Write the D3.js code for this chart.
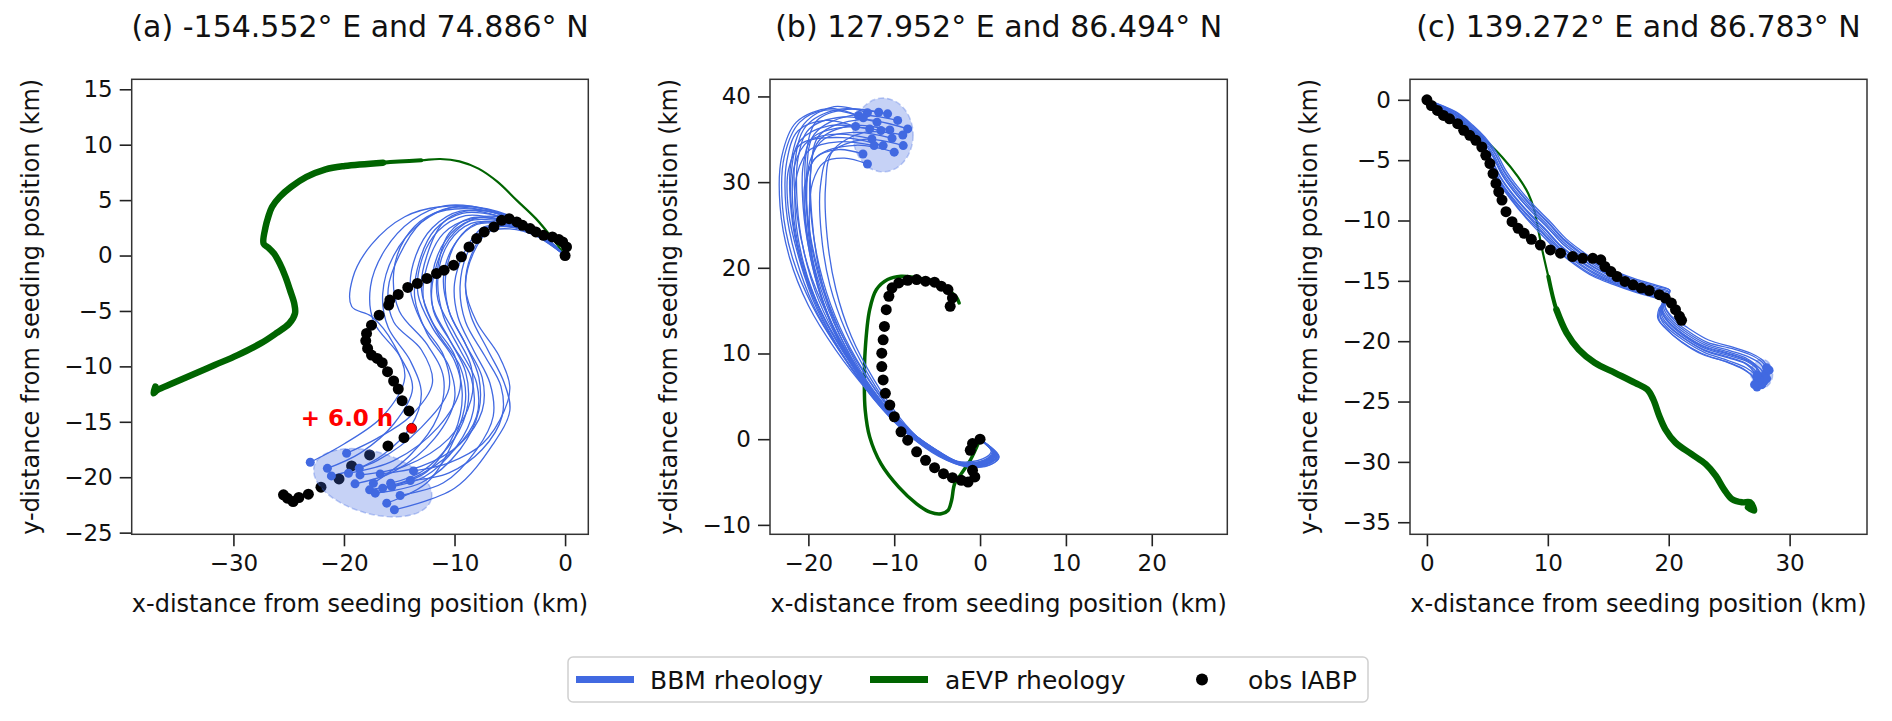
<!DOCTYPE html>
<html>
<head>
<meta charset="utf-8">
<script src="https://cdn.jsdelivr.net/npm/d3@7"></script>
<style>
  body { margin: 0; background: #fff; font-family: "DejaVu Sans", sans-serif; }
</style>
</head>
<body>
<div id="chart-container"></div>
<script>
// ---------- data (km from seeding position) ----------
const titles = [
  "(a) -154.552° E and 74.886° N",
  "(b) 127.952° E and 86.494° N",
  "(c) 139.272° E and 86.783° N"
];
const legendLabels = ["BBM rheology", "aEVP rheology", "obs IABP"];

const xTicksA = [-30, -20, -10, 0];
const yTicksA = [-25, -20, -15, -10, -5, 0, 5, 10, 15];
const xTicksB = [-20, -10, 0, 10, 20];
const yTicksB = [-10, 0, 10, 20, 30, 40];
const xTicksC = [0, 10, 20, 30];
const yTicksC = [-35, -30, -25, -20, -15, -10, -5, 0];

// panel (a)
const obsA = [[0,0],[0.13,0.78],[-0.22,1.23],[-0.56,1.44],[-1.15,1.68],[-1.95,1.83],[-2.64,2.13],[-3.16,2.43],
  [-3.85,2.73],[-4.37,3.03],[-5.06,3.33],[-5.75,3.18],[-6.44,2.58],[-7.31,2.13],[-8.0,1.53],[-8.69,0.78],
  [-9.38,-0.12],[-10.08,-0.87],[-10.94,-1.32],[-11.63,-1.62],[-12.5,-2.07],[-13.36,-2.52],[-14.23,-2.88],
  [-15.09,-3.51],[-15.85,-4.02],[-15.96,-4.47],[-16.82,-5.38],[-17.51,-6.28],[-17.96,-7.03],[-18.03,-7.69],
  [-17.86,-8.38],[-17.51,-8.98],[-16.99,-9.28],[-16.54,-9.67],[-16.06,-10.48],[-15.51,-11.32],[-15.09,-12.04],
  [-14.74,-13.09],[-14.12,-14.02],[-14.57,-16.43],[-16.02,-17.18],[-17.68,-17.99],[-19.31,-18.98],
  [-20.45,-20.15],[-22.08,-20.9],[-23.22,-21.53],[-24.08,-21.83],[-24.6,-22.19],[-25.12,-21.89],[-25.47,-21.59]];
const markA = [-13.88, -15.59];
const markLabelA = "+ 6.0 h";
const aevpA = [[0,0],[-1.25,1.68],[-2.64,3.33],[-4.37,4.98],[-6.1,6.64],[-7.83,7.84],[-9.56,8.5],[-11.29,8.71],
  [-13.02,8.59],[-16.47,8.38],[-19.93,8.08],[-21.66,7.78],[-23.39,7.09],[-24.78,6.19],[-25.81,5.29],[-26.51,4.38],
  [-26.85,3.48],[-27.09,2.58],[-27.27,1.08],[-26.85,0.72],[-26.33,0.18],[-25.81,-0.72],[-25.29,-1.92],
  [-24.88,-3.12],[-24.5,-4.32],[-24.43,-5.23],[-24.95,-6.13],[-26.16,-7.03],[-27.54,-7.93],[-29.62,-8.98],
  [-31.69,-9.88],[-33.77,-10.78],[-35.5,-11.53],[-36.88,-12.13],[-37.23,-12.43],[-37.06,-11.83]];
const bbmA = [
  [[0,0],[-3,2.6],[-7,4.2],[-11.3,4.4],[-14.5,3.5],[-17.5,1],[-19.2,-2],[-19.3,-4.6],[-17.5,-5.5],[-15.5,-8],[-14.5,-11],[-16.5,-14.5],[-20,-17],[-23.05,-18.65]],
  [[0,0],[-3,2.4],[-7,4],[-10.5,4.3],[-13,3],[-15,0],[-16,-3],[-15.5,-6],[-13,-8.5],[-12,-11.5],[-14,-14.5],[-17,-16.5],[-19.76,-17.84]],
  [[0,0],[-3,2.3],[-6.5,3.7],[-9.5,4],[-12,2.5],[-13.5,0],[-14,-3],[-13,-6],[-11,-9],[-10.5,-12],[-13,-15.5],[-17,-18.5],[-21.14,-19.88]],
  [[0,0],[-3,2.5],[-6,3.8],[-9,4],[-11,3],[-12.5,0],[-13,-3],[-12,-6],[-10,-9],[-9.5,-12],[-11.5,-15.5],[-15.5,-18.5],[-19.59,-19.64]],
  [[0,0],[-3,2.2],[-6,3.2],[-8.5,3.4],[-10.5,2],[-11.5,-1],[-11.5,-4],[-10,-7],[-8.5,-10],[-8.5,-13],[-10.5,-16.5],[-14.5,-19],[-18.55,-19.79]],
  [[0,0],[-3,2],[-5.5,2.8],[-8,2.8],[-10,1],[-11,-2],[-10.5,-5],[-9,-8],[-7.5,-11],[-7.5,-14],[-9.5,-17],[-13,-19],[-16.72,-19.7]],
  [[0,0],[-2.5,1.8],[-5,2.6],[-7,2.3],[-8.5,0],[-9,-3],[-8,-6],[-6,-9],[-5,-11.8],[-5.5,-14],[-7.5,-17],[-10.5,-18.7],[-13.71,-19.43]],
  [[0,0],[-3,2.3],[-6,3.5],[-8.5,3.2],[-10.5,1.5],[-11.8,-1.5],[-12,-4.5],[-10.5,-7.5],[-9,-10.5],[-8.8,-13.5],[-10,-16.5],[-13,-19.5],[-15.78,-20.54]],
  [[0,0],[-3,2.4],[-6.5,3.9],[-10,4.2],[-12.5,3.5],[-14.5,1.5],[-15.5,-1.5],[-15,-5],[-12.5,-8],[-11,-11],[-11.5,-14.5],[-14,-18],[-17.34,-20.54]],
  [[0,0],[-3,2.1],[-6,3.0],[-8.5,2.9],[-10.5,1.2],[-11.5,-2],[-11,-5.5],[-9.5,-8.5],[-8,-11.5],[-8,-14.5],[-10,-17.5],[-14,-20.2],[-17.68,-21.14]],
  [[0,0],[-2.5,1.9],[-5.5,2.9],[-8,2.9],[-9.8,1.3],[-10.8,-1.8],[-10.5,-5],[-9,-8],[-7.8,-11],[-7.8,-14],[-9.5,-17.5],[-13,-20.5],[-17.17,-21.44]],
  [[0,0],[-2.5,2],[-5.5,3.2],[-8.5,3.3],[-11,2],[-12.5,-1],[-12.8,-4],[-11.5,-7],[-9.5,-10],[-9,-13],[-10,-16.5],[-12.5,-20.5],[-16.13,-22.34]],
  [[0,0],[-2.5,1.7],[-5,2.4],[-7,2.1],[-8.3,0.2],[-9,-2.5],[-8.5,-5.5],[-7,-8.5],[-5.5,-11.5],[-5,-14],[-6.5,-17],[-10,-21],[-15.44,-22.94]],
  [[0,0],[-2.5,1.8],[-5.5,2.7],[-7.5,2.5],[-9,0.5],[-10,-2.5],[-9.7,-5.5],[-8.3,-8.5],[-6.8,-11.5],[-6.5,-14.5],[-8,-17.5],[-11,-20.5],[-14.92,-21.65]],
  [[0,0],[-3,2.2],[-6,3.3],[-9,3.6],[-11.5,2.2],[-13,-0.5],[-13.3,-3.5],[-12,-6.5],[-10,-9.5],[-9.3,-12.5],[-10,-16],[-12.5,-19.5],[-15.68,-20.84]],
  [[0,0],[-3,2.5],[-6.5,4],[-10,4.4],[-13,3],[-15.5,0],[-16.5,-3.5],[-16,-6.5],[-14,-9.5],[-13,-12.5],[-14,-15.5],[-16.5,-18],[-18.62,-19.19]],
  [[0,0],[-3,2.5],[-6.8,4.1],[-10.8,4.5],[-13.8,3.2],[-16.3,0.5],[-17.6,-2.8],[-17.3,-6],[-15,-9],[-13.8,-12],[-15.5,-15.2],[-18.5,-17.8],[-21.5,-19.2]],
  [[0,0],[-2.8,2.3],[-6.2,3.6],[-9.3,3.8],[-11.8,2.3],[-13.2,-0.6],[-13.6,-3.8],[-12.5,-7],[-10.5,-10],[-10,-13],[-11.8,-16.5],[-15.5,-19.5],[-19.0,-20.6]],
  [[0,0],[-2.6,1.9],[-5.3,2.6],[-7.3,2.4],[-8.8,0.3],[-9.5,-2.8],[-9,-6],[-7.3,-9],[-5.8,-11.8],[-5.7,-14.5],[-7.5,-17.5],[-10.5,-19.6],[-14.0,-20.3]],
  [[0,0],[-2.8,2.1],[-5.8,3.1],[-8.7,3.1],[-10.8,1.4],[-12,-1.7],[-11.9,-5],[-10.2,-8],[-8.5,-11],[-8.3,-14],[-9.8,-17.2],[-12.8,-20],[-16.5,-21.0]]
];
const spreadA = {cx: -17.4, cy: -20.5, rx: 5.5, ry: 2.8, angle: -16};

// panel (b)
const obsB = [[0,0],[-0.88,-0.51],[-1.14,-1.29],[-0.88,-3.63],[-0.61,-4.41],[-1.4,-5.0],[-2.18,-4.8],[-3.22,-4.49],
  [-4.26,-4.02],[-5.3,-3.32],[-6.35,-2.46],[-7.39,-1.48],[-8.43,-0.12],[-9.21,0.86],[-9.99,2.62],[-10.51,3.98],
  [-11.03,5.35],[-11.29,6.91],[-11.45,8.48],[-11.45,10.04],[-11.29,11.6],[-11.14,13.16],[-10.93,15.12],
  [-10.62,16.68],[-10.25,17.66],[-9.47,18.24],[-8.43,18.55],[-7.39,18.63],[-6.35,18.44],[-5.3,18.32],
  [-4.52,17.85],[-3.74,17.46],[-3.22,16.48],[-3.48,15.51]];
const aevpB = [[0,0],[-1.14,-2.46],[-2.18,-4.02],[-2.96,-5.2],[-3.32,-7.15],[-3.74,-8.32],[-4.52,-8.71],
  [-5.82,-8.52],[-7.39,-7.54],[-9.47,-5.59],[-11.55,-2.85],[-12.86,0.27],[-13.38,3.4],[-13.48,6.52],
  [-13.38,10.43],[-12.86,15.12],[-12.07,17.46],[-10.77,18.63],[-9.21,19.02],[-7.39,18.83],[-5.3,18.44],
  [-3.74,17.46],[-2.7,16.48],[-2.44,15.9]];
const bbmB = [
  [[0,0],[1.6,-1.6],[0.5,-2.5],[-2,-2.8],[-5,-1.3],[-9,1.5],[-12.8,5.5],[-16.5,10.5],[-19.5,15.5],[-21.8,21],[-23,27],[-22.8,33],[-21,37],[-18,38.4],[-14.16,37.77]],
  [[0,0],[1.8,-1.9],[0.8,-2.6],[-1.8,-2.9],[-4.6,-1.6],[-8.4,1],[-12,4.8],[-15.6,9.8],[-18.6,15],[-20.8,20.5],[-22,26.5],[-22,32.5],[-20.5,36.8],[-17,38.8],[-13.12,38.09]],
  [[0,0],[2,-2],[1,-2.7],[-1.5,-3],[-4.2,-1.9],[-7.8,0.6],[-11.3,4.2],[-14.8,9],[-17.8,14.5],[-20,20],[-21.3,26],[-21.6,32],[-20.3,36.5],[-16.5,38.5],[-11.81,38.16]],
  [[0,0],[1.5,-1.7],[0.6,-2.6],[-2.2,-2.9],[-5.2,-1.2],[-9.2,1.8],[-12.5,5.8],[-15.3,10.5],[-17.5,15.5],[-19.2,21],[-20.2,27],[-20.3,33],[-19,37.2],[-15.5,38.5],[-10.77,37.97]],
  [[0,0],[1.9,-2.1],[0.8,-2.8],[-1.8,-3.1],[-4.8,-2],[-8.3,0.5],[-11.8,4],[-15.3,8.8],[-18.3,14],[-20.5,19.5],[-21.8,25.5],[-22,31],[-21,34.8],[-17.5,36.6],[-12.86,36.21]],
  [[0,0],[1.4,-1.5],[0.5,-2.4],[-2.4,-2.7],[-5.6,-1],[-9.6,2.2],[-13,6.2],[-16,11],[-18.3,16],[-19.8,21.5],[-20.6,27],[-20.6,32],[-19.5,35.2],[-16,36.4],[-11.55,36.02]],
  [[0,0],[2.1,-2],[1.2,-2.8],[-1.2,-3.1],[-4,-2.2],[-7.3,0.2],[-10.5,3.5],[-13.6,8],[-16.3,13],[-18.3,18.5],[-19.5,24.5],[-19.8,30.5],[-18.8,34.8],[-15,36.6],[-10.51,36.09]],
  [[0,0],[1.7,-1.8],[0.7,-2.6],[-2,-2.9],[-5,-1.5],[-8.8,1.2],[-12.3,5],[-15.8,10],[-18.8,15.5],[-20.8,21],[-21.8,27],[-21.6,32],[-20,34.8],[-16.5,35.6],[-12.6,35.04]],
  [[0,0],[1.3,-1.4],[0.3,-2.3],[-2.6,-2.6],[-6,-0.8],[-10,2.5],[-13.5,6.8],[-16.5,11.8],[-18.6,17],[-19.8,22.5],[-20.2,28],[-19.8,32.5],[-18.2,35],[-14.5,35.8],[-10.25,35.12]],
  [[0,0],[1.9,-2],[1,-2.8],[-1.6,-3.1],[-4.4,-2.1],[-7.8,0.3],[-11,3.7],[-14.2,8.2],[-17,13.5],[-19,19],[-20.2,24.5],[-20.3,29.5],[-19.2,32.8],[-16.5,33.8],[-13.64,33.28]],
  [[0,0],[1.5,-1.6],[0.6,-2.5],[-2.2,-2.8],[-5.3,-1.2],[-9.2,1.7],[-12.8,5.7],[-16,10.5],[-18.2,15.8],[-19.5,21],[-19.9,26],[-19.5,30],[-18.2,32.3],[-15.8,32.8],[-13.12,32.11]],
  [[0,0],[2.2,-2.1],[1.3,-2.9],[-1,-3.2],[-3.8,-2.4],[-7,-0.2],[-10,3],[-13,7.5],[-15.6,12.5],[-17.5,18],[-18.5,24],[-18.6,29.5],[-17.5,33.3],[-13.5,35],[-8.95,34.26]],
  [[0,0],[1.6,-1.7],[0.7,-2.6],[-2,-3],[-5,-1.6],[-8.6,1],[-12,4.8],[-15,9.5],[-17.3,14.5],[-18.8,20],[-19.6,26],[-19.7,31.5],[-18.7,35.5],[-14,37.3],[-8.43,36.21]],
  [[0,0],[1.8,-1.9],[0.9,-2.7],[-1.7,-3],[-4.7,-1.7],[-8.5,0.9],[-12.1,4.6],[-15.6,9.6],[-18.5,14.8],[-20.5,20.3],[-21.5,26],[-21.3,31],[-19.8,33.8],[-16.5,34.7],[-12.34,34.26]],
  [[0,0],[1.7,-1.9],[0.8,-2.7],[-1.9,-3],[-4.9,-1.8],[-8.7,0.8],[-12.4,4.7],[-16,9.8],[-19,15.2],[-21,20.8],[-22.3,26.5],[-22.3,31.5],[-20.8,34.5],[-16,35.2],[-11.29,34.26]],
  [[0,0],[1.6,-1.8],[0.6,-2.6],[-2.1,-2.9],[-5.1,-1.4],[-9.1,1.4],[-12.9,5.4],[-16.8,10.4],[-20,15.6],[-22.2,21.2],[-23.3,27.2],[-23.1,33],[-21.4,37],[-17.5,38.6],[-13.6,37.5]],
  [[0,0],[2,-1.9],[1.1,-2.8],[-1.4,-3.1],[-4.1,-2],[-7.5,0.4],[-10.8,3.9],[-14,8.5],[-16.8,13.6],[-18.8,19],[-20,25],[-20.2,31],[-19.3,35.6],[-15,37.8],[-9.6,37.2]],
  [[0,0],[1.5,-1.6],[0.5,-2.5],[-2.3,-2.8],[-5.4,-1.1],[-9.4,2],[-12.9,6],[-16.2,11],[-18.8,16.2],[-20.5,21.8],[-21.3,27.5],[-21.2,32.8],[-19.9,36.2],[-16,37.6],[-12.0,37.0]],
  [[0,0],[1.9,-2.1],[0.9,-2.9],[-1.7,-3.2],[-4.5,-2.1],[-8,0.3],[-11.3,3.8],[-14.6,8.4],[-17.4,13.6],[-19.3,19.2],[-20.3,24.8],[-20.4,29.8],[-19,33],[-14.5,34.3],[-10.0,33.5]],
  [[0,0],[1.8,-1.8],[0.8,-2.6],[-1.9,-2.9],[-4.9,-1.5],[-8.9,1.3],[-12.6,5.2],[-16.3,10.2],[-19.3,15.4],[-21.4,21],[-22.6,27],[-22.5,32.5],[-21.2,36],[-18,37.2],[-14.5,36.5]],
  [[0,0],[2.2,-2],[1.4,-2.9],[-0.8,-3.3],[-3.5,-2.5],[-6.6,-0.4],[-9.5,2.7],[-12.4,7],[-15,12],[-16.8,17.5],[-17.8,23.5],[-18,29.5],[-17.2,33.6],[-13.5,35.8],[-9.0,35.5]]
];
const spreadB = {cx: -11.3, cy: 35.5, rx: 3.5, ry: 4.3, angle: 0};

// panel (c)
const obsC = [[0,0],[0.37,-0.47],[0.87,-0.88],[1.37,-1.29],[1.87,-1.57],[2.54,-1.98],[3.04,-2.53],[3.54,-2.94],
  [4.04,-3.36],[4.54,-3.91],[4.87,-4.6],[5.21,-5.28],[5.47,-6.11],[5.71,-6.93],[5.94,-7.62],[6.21,-8.31],
  [6.54,-9.27],[7.04,-10.1],[7.54,-10.65],[8.04,-11.06],[8.64,-11.56],[9.38,-12.03],[10.21,-12.44],
  [11.05,-12.71],[12.05,-12.99],[12.88,-13.13],[13.72,-13.13],[14.38,-13.26],[14.72,-13.81],[15.22,-14.23],
  [15.72,-14.64],[16.38,-15.05],[17.05,-15.33],[17.72,-15.6],[18.39,-15.8],[19.22,-16.15],[19.72,-16.43],
  [20.22,-16.84],[20.56,-17.39],[20.89,-17.94],[21.06,-18.27]];
const aevpC = [[0,0],[1.2,-0.88],[2.87,-1.84],[4.54,-3.08],[6.21,-4.73],[7.54,-6.38],[8.38,-7.76],[8.88,-9.14],
  [9.21,-10.79],[9.54,-12.44],[10.04,-14.64],[10.71,-17.39],[11.55,-19.32],[12.55,-20.69],[13.88,-21.79],
  [15.55,-22.62],[17.22,-23.45],[18.22,-24.0],[18.72,-24.82],[19.22,-26.2],[19.72,-27.3],[20.56,-28.4],
  [21.89,-29.36],[23.06,-30.19],[23.89,-31.15],[24.56,-32.25],[25.23,-33.08],[26.06,-33.35],[26.73,-33.35],
  [27.06,-34.04],[26.56,-33.76]];
const bbmC = [
  [[0,0],[2.2,-1.2],[3.6,-2.3],[4.6,-3.3],[5.4,-4.6],[6.2,-6.2],[7.2,-7.6],[8.5,-9.1],[9.9,-10.5],[11.2,-11.9],[12.6,-13],[13.9,-13.9],[15.6,-14.7],[17.2,-15.3],[18.9,-15.8],[19.9,-16.1],[19.5,-16.7],[19.4,-17.5],[19.9,-18.3],[21.2,-19.4],[22.9,-20.4],[24.9,-21],[26.3,-21.5],[27.3,-22.2],[27.6,-23.0]],
  [[0,0],[2.1,-1.4],[3.4,-2.5],[4.4,-3.5],[5.2,-4.9],[6.0,-6.6],[7.0,-8.0],[8.3,-9.5],[9.7,-10.9],[11.0,-12.3],[12.4,-13.4],[13.8,-14.3],[15.5,-15.1],[17.2,-15.7],[18.9,-16.2],[19.8,-16.5],[19.4,-17.0],[19.3,-17.9],[19.9,-18.7],[21.3,-19.8],[23.0,-20.8],[25.0,-21.4],[26.4,-21.9],[27.1,-22.6],[27.4,-23.4]],
  [[0,0],[2.3,-1.1],[3.7,-2.2],[4.7,-3.2],[5.6,-4.4],[6.4,-6.0],[7.4,-7.4],[8.7,-8.9],[10.1,-10.3],[11.4,-11.7],[12.8,-12.8],[14.1,-13.7],[15.7,-14.5],[17.3,-15.1],[19.0,-15.6],[20.0,-15.9],[19.7,-16.5],[19.6,-17.3],[20.1,-18.1],[21.4,-19.2],[23.1,-20.2],[25.1,-20.8],[26.6,-21.3],[27.6,-21.9],[28.0,-22.7]],
  [[0,0],[2.0,-1.5],[3.3,-2.7],[4.3,-3.7],[5.1,-5.1],[5.9,-6.8],[6.9,-8.2],[8.2,-9.8],[9.5,-11.2],[10.9,-12.6],[12.3,-13.7],[13.7,-14.6],[15.4,-15.3],[17.1,-15.9],[18.8,-16.4],[19.7,-16.7],[19.3,-17.3],[19.2,-18.2],[19.8,-19.0],[21.1,-20.1],[22.8,-21.1],[24.8,-21.7],[26.2,-22.3],[27.0,-23.0],[27.3,-23.8]],
  [[0,0],[2.2,-1.3],[3.5,-2.4],[4.5,-3.4],[5.3,-4.8],[6.1,-6.4],[7.1,-7.8],[8.4,-9.3],[9.8,-10.7],[11.1,-12.1],[12.5,-13.2],[13.9,-14.1],[15.5,-14.9],[17.2,-15.5],[18.9,-16.0],[20.0,-16.3],[19.6,-16.9],[19.5,-17.7],[20.0,-18.5],[21.3,-19.6],[23.0,-20.6],[25.0,-21.2],[26.5,-21.7],[27.5,-22.5],[27.9,-23.3]],
  [[0,0],[2.4,-1.0],[3.8,-2.1],[4.8,-3.1],[5.7,-4.3],[6.5,-5.8],[7.5,-7.2],[8.8,-8.7],[10.2,-10.1],[11.5,-11.5],[12.9,-12.6],[14.2,-13.5],[15.8,-14.3],[17.4,-14.9],[19.1,-15.4],[20.1,-15.8],[19.8,-16.4],[19.7,-17.1],[20.2,-17.9],[21.6,-18.9],[23.3,-19.9],[25.3,-20.5],[26.8,-21.0],[27.8,-21.6],[28.3,-22.4]],
  [[0,0],[2.1,-1.3],[3.4,-2.6],[4.4,-3.6],[5.2,-5.0],[6.0,-6.7],[7.0,-8.1],[8.3,-9.6],[9.6,-11.0],[11.0,-12.4],[12.4,-13.5],[13.8,-14.4],[15.5,-15.2],[17.2,-15.8],[18.9,-16.3],[19.8,-16.6],[19.4,-17.2],[19.3,-18.0],[19.8,-18.8],[21.2,-19.9],[22.9,-20.9],[24.9,-21.6],[26.4,-22.2],[27.3,-22.9],[27.7,-23.6]],
  [[0,0],[2.3,-1.2],[3.6,-2.4],[4.6,-3.4],[5.5,-4.7],[6.3,-6.3],[7.3,-7.7],[8.6,-9.2],[10.0,-10.6],[11.3,-12.0],[12.7,-13.1],[14.0,-14.0],[15.6,-14.8],[17.3,-15.4],[19.0,-15.9],[20.0,-16.2],[19.6,-16.8],[19.5,-17.6],[20.0,-18.4],[21.3,-19.5],[23.0,-20.5],[25.0,-21.1],[26.6,-21.6],[27.6,-22.3],[28.1,-23.1]],
  [[0,0],[2.1,-1.3],[3.5,-2.5],[4.5,-3.5],[5.3,-4.9],[6.1,-6.5],[7.1,-7.9],[8.4,-9.4],[9.8,-10.8],[11.1,-12.2],[12.5,-13.3],[13.9,-14.2],[15.5,-15.0],[17.2,-15.6],[18.9,-16.1],[19.9,-16.4],[19.5,-17.0],[19.4,-17.8],[19.9,-18.6],[21.2,-19.7],[22.9,-20.7],[24.9,-21.3],[26.3,-21.8],[27.2,-22.5],[27.5,-23.2]],
  [[0,0],[2.2,-1.1],[3.6,-2.2],[4.6,-3.2],[5.5,-4.5],[6.3,-6.1],[7.3,-7.5],[8.6,-9.0],[10.0,-10.4],[11.3,-11.8],[12.7,-12.9],[14.0,-13.8],[15.7,-14.6],[17.3,-15.2],[19.0,-15.7],[20.0,-16.0],[19.6,-16.6],[19.5,-17.4],[20.0,-18.2],[21.3,-19.3],[23.0,-20.3],[25.0,-20.9],[26.4,-21.4],[27.2,-22.0],[27.3,-22.8]],
  [[0,0],[2.0,-1.4],[3.3,-2.6],[4.3,-3.6],[5.1,-5.0],[5.9,-6.7],[6.9,-8.1],[8.2,-9.7],[9.6,-11.1],[10.9,-12.5],[12.3,-13.6],[13.7,-14.5],[15.4,-15.2],[17.0,-15.8],[18.7,-16.3],[19.6,-16.7],[19.2,-17.3],[19.1,-18.1],[19.7,-18.9],[21.0,-20.0],[22.7,-21.0],[24.7,-21.7],[26.1,-22.3],[26.9,-22.9],[27.1,-23.6]],
  [[0,0],[2.3,-1.0],[3.7,-2.1],[4.7,-3.1],[5.6,-4.4],[6.4,-5.9],[7.4,-7.3],[8.7,-8.8],[10.1,-10.2],[11.4,-11.6],[12.8,-12.7],[14.1,-13.6],[15.8,-14.4],[17.4,-15.0],[19.1,-15.5],[20.1,-15.8],[19.8,-16.4],[19.7,-17.2],[20.2,-18.0],[21.5,-19.1],[23.2,-20.1],[25.2,-20.6],[26.7,-21.1],[27.7,-21.7],[28.1,-22.2]]
];
const spreadC = {cx: 27.7, cy: -22.7, rx: 0.9, ry: 1.2, angle: 0};

// ---------- layout ----------
const width = 1892, height = 721;
const plotTop = 79.3, plotBottom = 534.3;
const blue = "#4169e1", green = "#006400";

const panels = [
  {title: titles[0], left: 131.7, right: 588.3, xDom: [-39.2, 2.1], yDom: [-25.15, 15.9],
   xTicks: xTicksA, yTicks: yTicksA, bbm: bbmA, aevp: aevpA, obs: obsA, spread: spreadA, thickFrom: 9},
  {title: titles[1], left: 770, right: 1227.3, xDom: [-24.47, 28.8], yDom: [-11.1, 42.0],
   xTicks: xTicksB, yTicks: yTicksB, bbm: bbmB, aevp: aevpB, obs: obsB, spread: spreadB, thickFrom: null},
  {title: titles[2], left: 1410, right: 1867, xDom: [-1.4, 36.4], yDom: [-36.0, 1.7],
   xTicks: xTicksC, yTicks: yTicksC, bbm: bbmC, aevp: aevpC, obs: obsC, spread: spreadC, thickFrom: 11}
];

const svg = d3.select("#chart-container")
  .append("svg")
  .attr("width", width)
  .attr("height", height)
  .style("font-family", "'DejaVu Sans', sans-serif");

svg.append("rect").attr("width", width).attr("height", height).attr("fill", "#fff");

panels.forEach((p, i) => {
  const x = d3.scaleLinear().domain(p.xDom).range([p.left, p.right]);
  const y = d3.scaleLinear().domain(p.yDom).range([plotBottom, plotTop]);
  const g = svg.append("g");

  g.append("clipPath").attr("id", `clip${i}`)
    .append("rect")
    .attr("x", p.left).attr("y", plotTop)
    .attr("width", p.right - p.left).attr("height", plotBottom - plotTop);

  const plot = g.append("g").attr("clip-path", `url(#clip${i})`);

  const line = d3.line()
    .x(d => x(d[0]))
    .y(d => y(d[1]))
    .curve(d3.curveCatmullRom.alpha(0.5));

  // aEVP: thin start, thicker (spread ensemble) later on
  plot.append("path")
    .attr("d", line(p.aevp))
    .attr("fill", "none")
    .attr("stroke", green)
    .attr("stroke-width", p.thickFrom === null ? 3.5 : 2.2)
    .attr("stroke-linejoin", "round")
    .attr("stroke-linecap", "round");
  if (p.thickFrom !== null) {
    plot.append("path")
      .attr("d", line(p.aevp.slice(p.thickFrom - 1)))
      .attr("fill", "none")
      .attr("stroke", green)
      .attr("stroke-width", 4)
      .attr("stroke-linejoin", "round")
      .attr("stroke-linecap", "round");
    plot.append("path")
      .attr("d", line(p.aevp.slice(p.thickFrom)))
      .attr("fill", "none")
      .attr("stroke", green)
      .attr("stroke-width", 6.5)
      .attr("stroke-linejoin", "round")
      .attr("stroke-linecap", "round");
  }

  // BBM members
  plot.selectAll(".bbm")
    .data(p.bbm)
    .join("path")
    .attr("class", "bbm")
    .attr("d", line)
    .attr("fill", "none")
    .attr("stroke", blue)
    .attr("stroke-width", 1.3);

  // observed buoy
  plot.selectAll(".obs")
    .data(p.obs)
    .join("circle")
    .attr("class", "obs")
    .attr("cx", d => x(d[0]))
    .attr("cy", d => y(d[1]))
    .attr("r", 5.5)
    .attr("fill", "#000");

  // ensemble spread ellipse
  const s = p.spread;
  const k = x(1) - x(0);
  plot.append("ellipse")
    .attr("transform", `translate(${x(s.cx)},${y(s.cy)}) rotate(${-s.angle})`)
    .attr("rx", s.rx * k)
    .attr("ry", s.ry * k)
    .attr("fill", blue)
    .attr("fill-opacity", 0.3)
    .attr("stroke", blue)
    .attr("stroke-opacity", 0.35)
    .attr("stroke-width", 1.5)
    .attr("stroke-dasharray", "6,3");

  plot.selectAll(".end")
    .data(p.bbm.map(m => m[m.length - 1]))
    .join("circle")
    .attr("class", "end")
    .attr("cx", d => x(d[0]))
    .attr("cy", d => y(d[1]))
    .attr("r", 4.5)
    .attr("fill", blue);

  if (i === 0) {
    plot.append("circle")
      .attr("cx", x(markA[0]))
      .attr("cy", y(markA[1]))
      .attr("r", 5)
      .attr("fill", "red")
      .attr("stroke", "#600")
      .attr("stroke-width", 0.8);
    g.append("text")
      .attr("x", x(-23.9))
      .attr("y", y(-14.65))
      .attr("dy", "0.36em")
      .attr("fill", "red")
      .attr("font-weight", "bold")
      .attr("font-size", 23)
      .text(markLabelA);
  }

  // axes
  const xAxis = g.append("g")
    .attr("transform", `translate(0,${plotBottom})`)
    .call(d3.axisBottom(x).tickValues(p.xTicks).tickSize(12).tickPadding(8).tickFormat(d3.format("d")));
  const yAxis = g.append("g")
    .attr("transform", `translate(${p.left},0)`)
    .call(d3.axisLeft(y).tickValues(p.yTicks).tickSize(12).tickPadding(7).tickFormat(d3.format("d")));
  [xAxis, yAxis].forEach(a => {
    a.select(".domain").remove();
    a.selectAll("line").attr("stroke", "#222").attr("stroke-width", 1.6);
    a.selectAll("text").attr("font-size", 23).attr("fill", "#111")
      .style("font-family", "'DejaVu Sans', sans-serif");
  });

  // frame
  g.append("rect")
    .attr("x", p.left).attr("y", plotTop)
    .attr("width", p.right - p.left).attr("height", plotBottom - plotTop)
    .attr("fill", "none")
    .attr("stroke", "#333")
    .attr("stroke-width", 1.5);

  // labels
  const cx = (p.left + p.right) / 2;
  g.append("text")
    .attr("x", cx).attr("y", 37)
    .attr("text-anchor", "middle")
    .attr("font-size", 30)
    .attr("fill", "#111")
    .text(p.title);
  g.append("text")
    .attr("x", cx).attr("y", 612)
    .attr("text-anchor", "middle")
    .attr("font-size", 24)
    .attr("fill", "#111")
    .text("x-distance from seeding position (km)");
  g.append("text")
    .attr("transform", `translate(${p.left - 93},${(plotTop + plotBottom) / 2}) rotate(-90)`)
    .attr("text-anchor", "middle")
    .attr("font-size", 24)
    .attr("fill", "#111")
    .text("y-distance from seeding position (km)");
});

// legend
const legend = svg.append("g").attr("transform", "translate(568,657)");
legend.append("rect")
  .attr("width", 800).attr("height", 45).attr("rx", 5)
  .attr("fill", "#fff").attr("stroke", "#d0d0d0").attr("stroke-width", 1.5);

const items = [
  {label: legendLabels[0], color: blue, kind: "line", x: 8, tx: 82},
  {label: legendLabels[1], color: green, kind: "line", x: 302, tx: 377},
  {label: legendLabels[2], color: "#000", kind: "dot", x: 634, tx: 680}
];
items.forEach(it => {
  if (it.kind === "line") {
    legend.append("line")
      .attr("x1", it.x).attr("x2", it.x + 58)
      .attr("y1", 22.5).attr("y2", 22.5)
      .attr("stroke", it.color).attr("stroke-width", 7);
  } else {
    legend.append("circle").attr("cx", it.x).attr("cy", 22.5).attr("r", 6).attr("fill", it.color);
  }
  legend.append("text")
    .attr("x", it.tx).attr("y", 22.5).attr("dy", "0.36em")
    .attr("font-size", 25).attr("fill", "#111")
    .text(it.label);
});
</script>
</body>
</html>
